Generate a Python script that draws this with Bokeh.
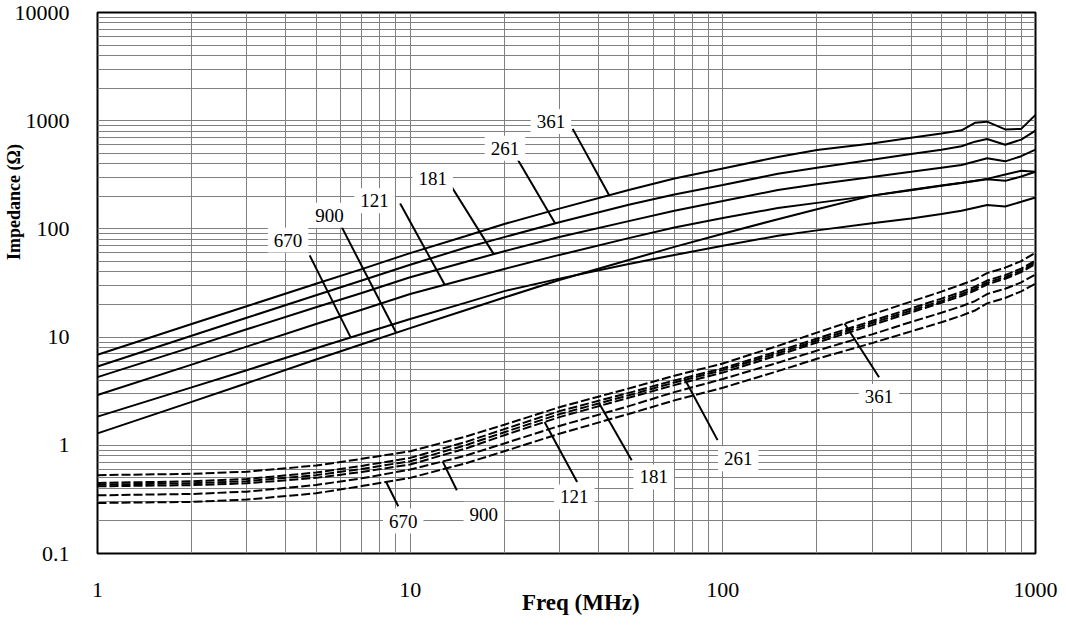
import math
import numpy as np
from bokeh.plotting import figure
from bokeh.models import FixedTicker, CustomJSTickFormatter, Label, Range1d
from bokeh.embed import file_html
from bokeh.resources import INLINE

# ---------------- data ----------------
freq = [1, 2, 3, 5, 7, 10, 15, 20, 30, 50, 70, 100, 150, 200, 300, 400, 500, 580, 640, 700, 800, 900, 1000]

# solid curves (upper group)
z_361 = [6.87, 13.2, 19.3, 31.1, 42.5, 59.7, 85.5, 111, 154, 229, 292, 362, 462, 536, 616, 696, 763, 815, 955, 980, 830, 840, 1130]
z_261 = [5.35, 10.3, 15.1, 24.4, 33.4, 46.6, 67, 84, 115, 167, 208, 255, 323, 367, 435, 492, 540, 580, 640, 678, 600, 668, 809]
z_181 = [4.27, 8.08, 11.8, 18.9, 25.6, 35.7, 49.5, 62.2, 84, 118, 147, 181, 229, 259, 302, 337, 368, 390, 420, 449, 421, 470, 540]
z_121 = [2.92, 5.57, 8.17, 13.2, 17.9, 25.0, 34.2, 42.6, 57.5, 82.2, 103, 126, 156, 174, 203, 228, 250, 265, 277, 288, 278, 305, 337]
z_900 = [1.29, 2.52, 3.75, 6.2, 8.6, 12.1, 17.7, 23.2, 33.7, 51.6, 68.2, 90.2, 123, 152, 203, 230, 252, 267, 278, 290, 318, 344, 337]
z_670 = [1.84, 3.43, 4.94, 7.9, 10.7, 14.7, 20.7, 26.6, 34.7, 47.4, 57.5, 69.8, 86.3, 96.9, 113, 125, 137, 147, 157, 166, 161, 178, 195]

# dashed curves (lower group)
d_361 = [0.53, 0.545, 0.57, 0.65, 0.75, 0.88, 1.2, 1.55, 2.25, 3.35, 4.4, 5.7, 8.3, 11.0, 16.2, 21.3, 26.3, 30.6, 34.0, 39.0, 43.8, 50.4, 60.3]
d_261 = [0.449, 0.465, 0.488, 0.56, 0.645, 0.765, 1.07, 1.41, 2.07, 3.05, 3.98, 5.15, 7.4, 9.7, 14.1, 18.4, 22.7, 26.2, 29.2, 33.3, 37.4, 43.0, 51.0]
d_181 = [0.433, 0.446, 0.466, 0.53, 0.605, 0.713, 1.0, 1.32, 1.94, 2.9, 3.8, 4.95, 7.1, 9.3, 13.5, 17.6, 21.6, 25.0, 27.9, 31.8, 35.8, 41.2, 49.0]
d_121 = [0.418, 0.428, 0.445, 0.50, 0.567, 0.665, 0.93, 1.24, 1.82, 2.75, 3.6, 4.7, 6.8, 8.9, 12.9, 16.9, 20.8, 24.0, 26.9, 30.6, 34.6, 39.8, 47.5]
d_900 = [0.345, 0.355, 0.373, 0.43, 0.495, 0.597, 0.80, 1.04, 1.51, 2.3, 3.1, 4.1, 5.8, 7.5, 10.6, 13.8, 16.8, 19.3, 21.5, 25.0, 28.0, 32.0, 37.9]
d_670 = [0.293, 0.30, 0.315, 0.36, 0.42, 0.50, 0.68, 0.88, 1.28, 1.95, 2.6, 3.4, 4.85, 6.3, 8.8, 11.3, 13.7, 15.8, 17.6, 20.5, 23.0, 26.5, 31.1]

solid_names = ["670", "900", "121", "181", "261", "361"]
solid_curves = [z_670, z_900, z_121, z_181, z_261, z_361]
dashed_names = ["670", "900", "121", "181", "261", "361"]
dashed_curves = [d_670, d_900, d_121, d_181, d_261, d_361]

# callout labels (text position, leader end near text, frequency where leader meets curve)
solid_label_f = [4.07, 5.52, 7.69, 11.8, 20.1, 28.2]
solid_label_z = [78.9, 134, 181.6, 294, 556, 981]
solid_lead_f = [4.77, 6.02, 9.29, 13.0, 22.1, 33.1]
solid_lead_z = [56.9, 106, 172, 299, 436, 840]
solid_touch_f = [6.45, 9.02, 12.9, 18.5, 29.1, 43.3]

dashed_label_f = [9.5, 17.2, 33.5, 60.1, 112, 316]
dashed_label_z = [0.1995, 0.230, 0.333, 0.510, 0.753, 2.82]
dashed_lead_f = [9.16, 14.1, 34.2, 51.1, 96.2, 316]
dashed_lead_z = [0.273, 0.384, 0.458, 0.729, 1.117, 4.26]
dashed_touch_f = [8.38, 12.7, 26.9, 40.2, 75.2, 245]

x_ticks = [1, 10, 100, 1000]
y_ticks = [0.1, 1, 10, 100, 1000, 10000]


def on_curve(f, zs):
    return float(10 ** np.interp(math.log10(f), np.log10(freq), np.log10(zs)))


FONT = "Liberation Serif"
NB = "\u00a0"

p = figure(width=1060, height=620, x_axis_type="log", y_axis_type="log",
           x_range=Range1d(1, 1000), y_range=Range1d(0.1, 10000),
           output_backend="svg", toolbar_location=None,
           min_border_left=93, min_border_right=25, min_border_top=12, min_border_bottom=67)
p.background_fill_color = "white"
p.border_fill_color = "white"
p.outline_line_color = "black"
p.outline_line_width = 2

x_minor = [m * d for d in (1, 10, 100) for m in range(2, 10)]
y_minor = [m * d for d in (0.1, 1, 10, 100, 1000) for m in range(2, 10)]
xt = FixedTicker(ticks=x_ticks, minor_ticks=x_minor)
yt = FixedTicker(ticks=y_ticks, minor_ticks=y_minor)
p.xaxis.ticker = xt
p.yaxis.ticker = yt
p.xgrid.ticker = xt
p.ygrid.ticker = yt
fmt = CustomJSTickFormatter(code="return String(tick);")
for ax in (p.xaxis, p.yaxis):
    ax.formatter = fmt
    ax.axis_line_color = None
    ax.major_tick_line_color = None
    ax.minor_tick_line_color = None
    ax.major_label_text_font = FONT
    ax.major_label_text_font_size = "22px"
    ax.major_label_text_color = "black"
    ax.axis_label_text_font = FONT
    ax.axis_label_text_font_style = "bold"
    ax.axis_label_text_color = "black"
p.xaxis.major_label_standoff = 23
p.yaxis.major_label_standoff = 22

# axis titles (the reference places them off-centre; leading no-break spaces shift them)
p.yaxis.axis_label = NB * 36 + "Impedance (Ω)"
p.yaxis.axis_label_text_font_size = "18px"
p.yaxis.axis_label_standoff = -12
p.xaxis.axis_label = NB * 5 + "Freq (MHz)"
p.xaxis.axis_label_text_font_size = "23px"
p.xaxis.axis_label_standoff = -10

for g in (p.xgrid, p.ygrid):
    g.grid_line_color = "#808080"
    g.grid_line_width = 1
    g.minor_grid_line_color = "#808080"
    g.minor_grid_line_width = 1

for zs in solid_curves:
    p.line(freq, zs, line_color="black", line_width=2)
for zs in dashed_curves:
    p.line(freq, zs, line_color="black", line_width=2, line_dash="9 3")

# leaders
sx1 = [on_curve(f, c) for f, c in zip(solid_touch_f, solid_curves)]
p.segment(x0=solid_lead_f, y0=solid_lead_z, x1=solid_touch_f, y1=sx1, line_color="black", line_width=2)
dx1 = [on_curve(f, c) for f, c in zip(dashed_touch_f, dashed_curves)]
p.segment(x0=dashed_lead_f, y0=dashed_lead_z, x1=dashed_touch_f, y1=dx1, line_color="black", line_width=2)

for names, lf, lz in ((solid_names, solid_label_f, solid_label_z), (dashed_names, dashed_label_f, dashed_label_z)):
    for t, f, z in zip(names, lf, lz):
        p.add_layout(Label(x=f, y=z, text=t, text_font=FONT, text_font_size="19px",
                           text_color="black", text_align="center", text_baseline="middle",
                           background_fill_color="white", padding=6))

open("out.html", "w").write(file_html(p, INLINE))
